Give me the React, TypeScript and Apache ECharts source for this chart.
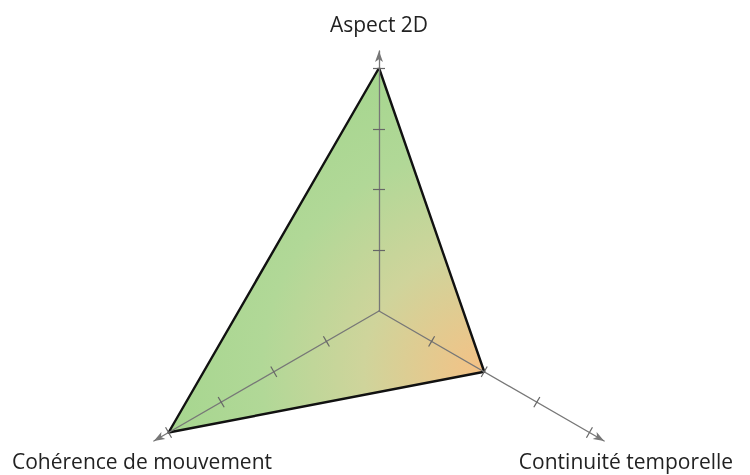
import React, { useEffect, useRef } from "react";
import * as echarts from "echarts";

const axisNames = ["Aspect 2D", "Cohérence de mouvement", "Continuité temporelle"];
const axisMax = [4, 4, 4];
const values = [4, 4, 2];
const tickValues = [1, 2, 3, 4];

export default function App() {
  const ref = useRef<HTMLDivElement>(null);
  useEffect(() => {
    const chart = echarts.init(ref.current!, null, { renderer: "svg" });
    const center = [379, 311];
    const indicator = axisNames.map((name, i) => ({ name, min: 0, max: axisMax[i] }));
    const base = {
      center,
      startAngle: 90,
      shape: "polygon",
      splitNumber: 4,
      indicator,
      z: 5,
      axisName: { show: false },
      splitLine: { show: false },
      splitArea: { show: false },
      axisLabel: { show: false },
    };
    const tickStyle = { color: "#666666", width: 1.2 };
    const font = "'Open Sans', 'Noto Sans', sans-serif";
    chart.setOption({
      animation: false,
      radar: [
        {
          ...base,
          radius: 260,
          axisLine: {
            show: true,
            symbol: ["none", "arrow"],
            symbolSize: [6, 11],
            lineStyle: { color: "#777777", width: 1.3 },
          },
          axisTick: { show: false },
        },
        {
          ...base,
          radius: 243,
          axisLine: { show: false },
          axisTick: { show: true, length: 6, customValues: tickValues, lineStyle: tickStyle },
        },
        {
          ...base,
          radius: 243,
          axisLine: { show: false },
          axisTick: { show: true, length: -6, customValues: tickValues, lineStyle: tickStyle },
        },
      ],
      series: [
        {
          type: "radar",
          radarIndex: 1,
          z: 2,
          symbol: "none",
          lineStyle: { width: 0, opacity: 0 },
          data: [{ value: values, name: "Profil" }],
          areaStyle: {
            opacity: 1,
            color: new echarts.graphic.RadialGradient(
              485,
              372,
              320,
              [
                { offset: 0, color: "#f5c185" },
                { offset: 0.38, color: "#cfd49b" },
                { offset: 0.7, color: "#b1d897" },
                { offset: 1, color: "#a6d68f" },
              ],
              true
            ),
          },
        },
        {
          type: "radar",
          radarIndex: 1,
          z: 3,
          symbol: "none",
          lineStyle: { color: "#111111", width: 2.4 },
          data: [{ value: values, name: "Profil" }],
        },
      ],
      graphic: [
        {
          type: "text",
          x: 379,
          y: 24,
          style: { text: axisNames[0], font: `21px ${font}`, fill: "#222", align: "center", verticalAlign: "middle" },
        },
        {
          type: "text",
          x: 142,
          y: 461,
          style: { text: axisNames[1], font: `21px ${font}`, fill: "#222", align: "center", verticalAlign: "middle" },
        },
        {
          type: "text",
          x: 626,
          y: 461,
          style: { text: axisNames[2], font: `21px ${font}`, fill: "#222", align: "center", verticalAlign: "middle" },
        },
      ],
    });
    return () => chart.dispose();
  }, []);
  return <div ref={ref} style={{ position: "fixed", left: 0, top: 0, width: 750, height: 475 }} />;
}
